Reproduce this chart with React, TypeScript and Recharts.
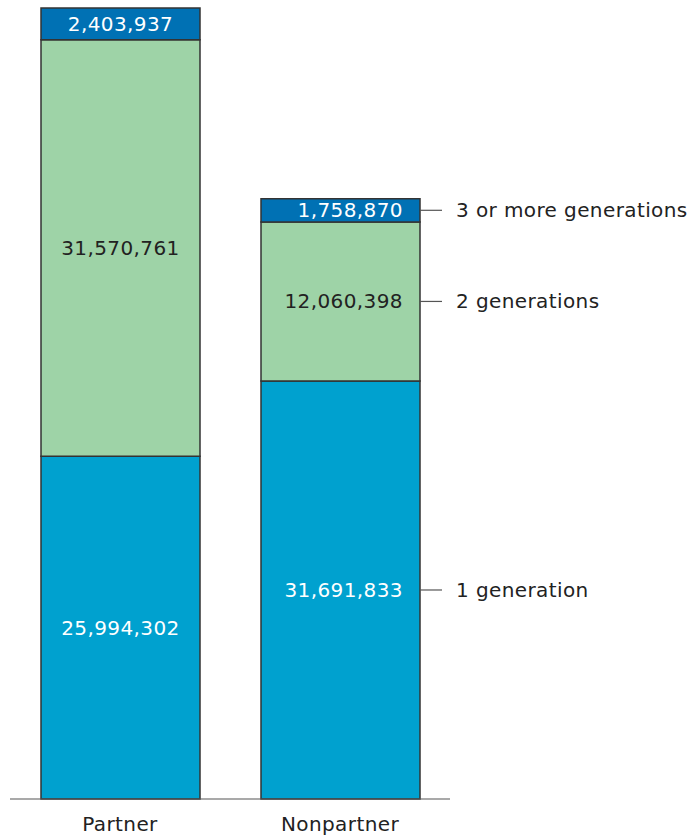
import { Bar, BarChart, LabelList, XAxis, YAxis } from "recharts";

const groups = ["Partner", "Nonpartner"];
const oneGen = [25994302, 31691833];
const twoGen = [31570761, 12060398];
const threeGen = [2403937, 1758870];
const seriesNames = ["1 generation", "2 generations", "3 or more generations"];

const data = groups.map((g, i) => ({ name: g, one: oneGen[i], two: twoGen[i], three: threeGen[i] }));

const FONT = "'DejaVu Sans', sans-serif";

function makeLabel(series: number, textColor: string) {
  return (props: any) => {
    const { x, y, width, height, value, index } = props;
    const cy = y + height / 2;
    const fmt = Number(value).toLocaleString("en-US");
    const isLast = index === 1;
    return (
      <g>
        <text
          x={isLast ? x + width - 17 : x + width / 2}
          y={cy}
          textAnchor={isLast ? "end" : "middle"}
          dominantBaseline="central"
          fill={textColor}
          fontSize={20}
          letterSpacing={0.4}
          fontFamily={FONT}
        >
          {fmt}
        </text>
        {isLast && (
          <g>
            <line x1={x + width} x2={x + width + 22} y1={cy} y2={cy} stroke="#555" strokeWidth={1.2} />
            <text x={x + width + 36} y={cy} dominantBaseline="central" fill="#222" fontSize={20} letterSpacing={0.4} fontFamily={FONT}>
              {seriesNames[series]}
            </text>
          </g>
        )}
      </g>
    );
  };
}

export default function App() {
  return (
    <div style={{ position: "absolute", left: 0, top: 0, background: "#fff" }}>
      <BarChart width={687} height={838} data={data} margin={{ top: 8, right: 237, bottom: 0, left: 10 }} barSize={159}>
        <XAxis
          dataKey="name"
          axisLine={{ stroke: "#555", strokeWidth: 1.2 }}
          tickLine={false}
          tick={{ fill: "#222", fontSize: 20, fontFamily: FONT, letterSpacing: 0.4 }}
          tickMargin={12}
          height={39}
        />
        <YAxis hide domain={[0, "dataMax"]} />
        <Bar dataKey="one" stackId="a" fill="#00a1cf" stroke="#333" strokeWidth={1.5} isAnimationActive={false}>
          <LabelList dataKey="one" content={makeLabel(0, "#ffffff")} />
        </Bar>
        <Bar dataKey="two" stackId="a" fill="#9ed3a7" stroke="#333" strokeWidth={1.5} isAnimationActive={false}>
          <LabelList dataKey="two" content={makeLabel(1, "#222222")} />
        </Bar>
        <Bar dataKey="three" stackId="a" fill="#0071b4" stroke="#333" strokeWidth={1.5} isAnimationActive={false}>
          <LabelList dataKey="three" content={makeLabel(2, "#ffffff")} />
        </Bar>
      </BarChart>
    </div>
  );
}
